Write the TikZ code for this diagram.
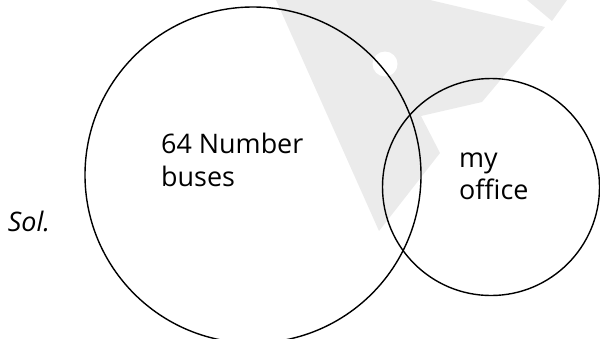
\documentclass[tikz,border=0pt]{standalone}
\usepackage{fontspec}
\setmainfont{Open Sans}
\begin{document}
\begin{tikzpicture}[x=1bp,y=-1bp,
  setring/.style={draw=black,line width=1.4bp},
  label/.style={font=\fontsize{27}{32}\selectfont,inner sep=0pt,anchor=base west},
  wmark/.style={fill=black!8,draw=none}]
  \useasboundingbox (0,0) rectangle (600,338);
  % faint background mark
  \fill[wmark] (276,0) -- (379,231) -- (440,153) -- (421,116) -- (482,102)
    -- (545,27) -- (430,0) -- cycle;
  \fill[wmark] (527,0) -- (552,21) -- (567,0) -- cycle;
  \fill[white] (385,64) circle (12.5);
  % the two sets
  \begin{scope}
    \clip (0,0) rectangle (600,338);
    \draw[setring] (253,175) circle (168);
    \draw[setring] (491,187) circle (108.5);
  \end{scope}
  % labels
  \node[label] (buses1) at (161,153.3) {64 Number};
  \node[label] (buses2) at (161,186.7) {buses};
  \node[label] (office1) at (459,167) {my};
  \node[label] (office2) at (459,199) {office};
  \node[label,font=\fontsize{27}{32}\selectfont\itshape] (sol) at (7.7,231.7) {Sol.};
\end{tikzpicture}
\end{document}
